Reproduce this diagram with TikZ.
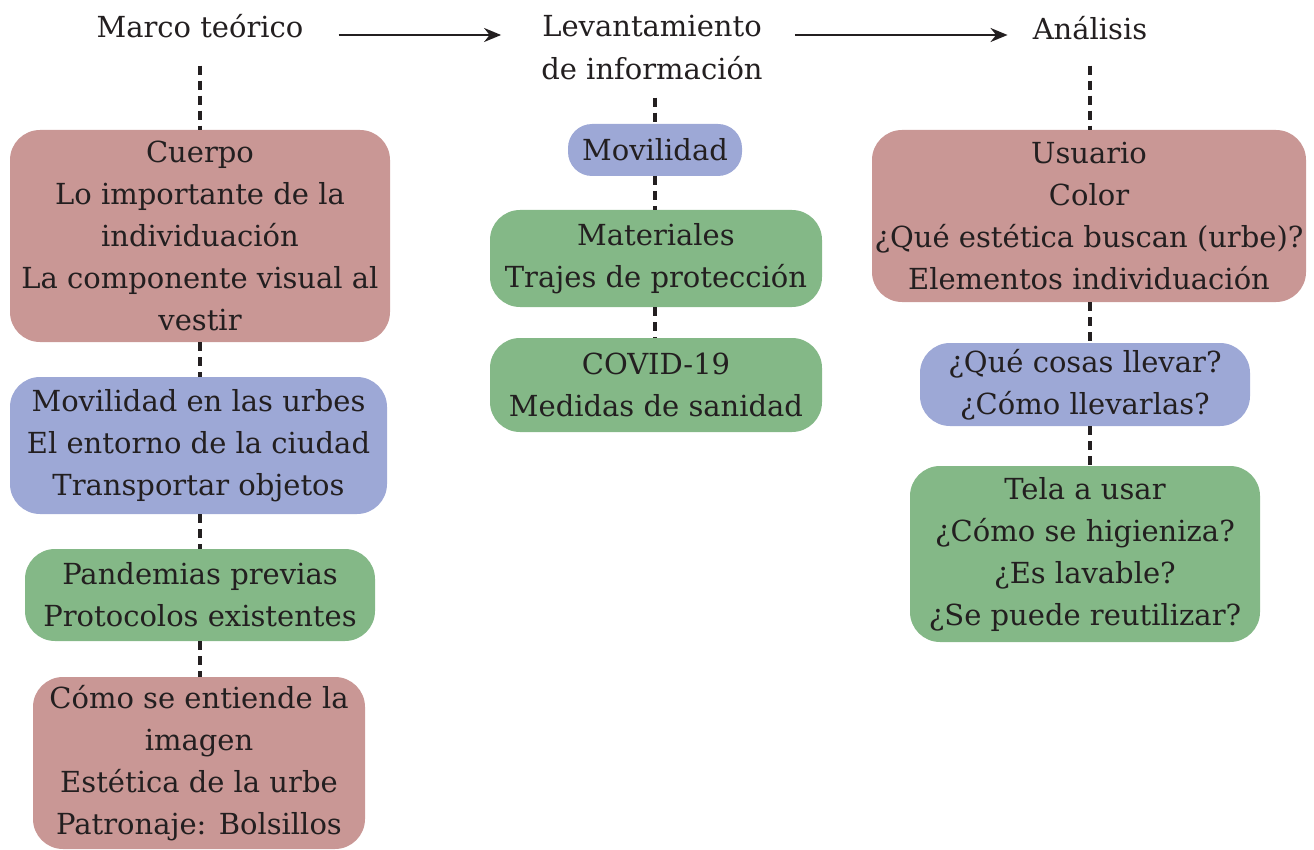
\documentclass[tikz,border=0pt]{standalone}
\usepackage{xcolor}
\usepackage{fontspec}
\setmainfont{DejaVu Serif}
\usepackage{tikz}
\usetikzlibrary{arrows.meta, positioning}

\definecolor{boxred}{HTML}{C99795}
\definecolor{boxblue}{HTML}{9DA8D6}
\definecolor{boxgreen}{HTML}{84B887}
\definecolor{inkgray}{HTML}{231F20}

\begin{document}
\begin{tikzpicture}[
            x=1pt, y=-1pt,
            box/.style={
                rounded corners=30pt,
                inner sep=0pt,
                outer sep=0pt,
                align=center,
                text=inkgray,
                font=\fontsize{29}{42}\selectfont
  },
  head/.style={
    inner sep=0pt,
    align=center,
    text=inkgray,
    font=\fontsize{29}{43}\selectfont
  },
  dots/.style={
    line width=3.5pt,
    dash pattern=on 9pt off 6pt,
    inkgray
  },
  arr/.style={
    -{Stealth[length=17pt, width=14pt]},
    line width=2pt,
    inkgray
  }
]

\useasboundingbox (0,0) rectangle (1314,850);

% Headers
\node [head, anchor=base] (marco) at (200,38) {Marco teórico};
\node [head, anchor=base] (lev) at (652,80) {Levantamiento\\de información};
\node [head, anchor=base] (analisis) at (1090,40) {Análisis};

% Arrows between headers
\draw [arr, shorten <=35pt, shorten >=40pt] ([yshift=3pt]marco.base east) -- ([yshift=3pt]marco.base east -| lev.west);
\draw [arr, shorten <=32pt, shorten >=25pt] ([yshift=3pt]marco.base east -| lev.east) -- ([yshift=3pt]marco.base east -| analisis.west);

% Left column
\node [box, fill=boxred, minimum width=380pt, minimum height=212pt] (cuerpo) at (200,236)
  {Cuerpo\\Lo importante de la\\individuación\\La componente visual al\\vestir};
\node [box, fill=boxblue, minimum width=377pt, minimum height=137pt] (urbes) at (198.5,445.5)
  {Movilidad en las urbes\\El entorno de la ciudad\\Transportar objetos};
\node [box, fill=boxgreen, minimum width=350pt, minimum height=92pt] (pandemias) at (200,595)
  {Pandemias previas\\Protocolos existentes};
\node [box, fill=boxred, minimum width=332pt, minimum height=172pt] (imagen) at (199,763)
  {Cómo se entiende la\\imagen\\Estética de la urbe\\Patronaje: Bolsillos};

% Middle column
\node [box, rounded corners=24pt, fill=boxblue, minimum width=174pt, minimum height=52pt] (movilidad) at (655,150)
  {Movilidad};
\node [box, fill=boxgreen, minimum width=332pt, minimum height=97pt] (materiales) at (656,258.5)
  {Materiales\\Trajes de protección};
\node [box, fill=boxgreen, minimum width=332pt, minimum height=94pt] (covid) at (656,385)
  {COVID-19\\Medidas de sanidad};

% Right column
\node [box, fill=boxred, minimum width=434pt, minimum height=172pt] (usuario) at (1089,216)
  {Usuario\\Color\\¿Qué estética buscan (urbe)?\\Elementos individuación};
\node [box, fill=boxblue, minimum width=330pt, minimum height=83pt] (cosas) at (1085,384.5)
  {¿Qué cosas llevar?\\¿Cómo llevarlas?};
\node [box, fill=boxgreen, minimum width=350pt, minimum height=176pt] (tela) at (1085,554)
  {Tela a usar\\¿Cómo se higieniza?\\¿Es lavable?\\¿Se puede reutilizar?};

% Dotted links
\draw [dots, shorten <=27pt] (marco.south) -- (marco.south |- cuerpo.north);
\draw [dots] (marco.south |- cuerpo.south) -- (marco.south |- urbes.north);
\draw [dots] (marco.south |- urbes.south) -- (marco.south |- pandemias.north);
\draw [dots] (marco.south |- pandemias.south) -- (marco.south |- imagen.north);

\draw [dots, shorten <=17pt] (movilidad.north |- lev.south) -- (movilidad.north);
\draw [dots] (movilidad.south) -- (movilidad.south |- materiales.north);
\draw [dots] (movilidad.south |- materiales.south) -- (movilidad.south |- covid.north);

\draw [dots, shorten <=25pt] (analisis.south) -- (analisis.south |- usuario.north);
\draw [dots] (analisis.south |- usuario.south) -- (analisis.south |- cosas.north);
\draw [dots] (analisis.south |- cosas.south) -- (analisis.south |- tela.north);

\end{tikzpicture}
\end{document}
